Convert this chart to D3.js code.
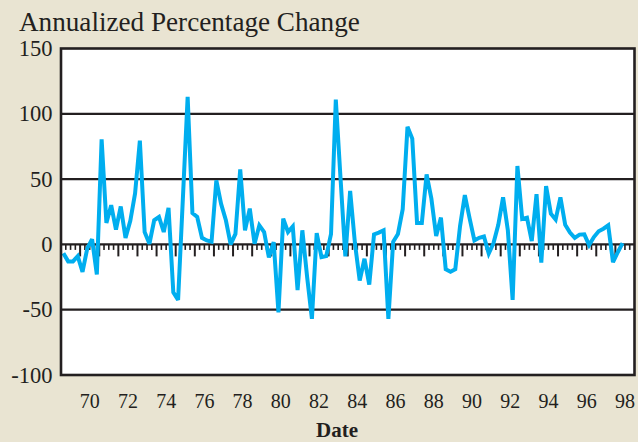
<!DOCTYPE html>
<html>
<head>
<meta charset="utf-8">
<script src="https://cdn.jsdelivr.net/npm/d3@7/dist/d3.min.js"></script>
<style>
  html, body { margin: 0; padding: 0; background: #E9E4D2; }
  svg { display: block; }
  text { font-family: "Liberation Serif", "Times New Roman", serif; fill: #231F20; }
</style>
</head>
<body>
<svg id="chart" width="638" height="442"></svg>
<script>
// ---- Data (quarterly, annualized % change), first quarter = 1969 Q1 ----
const startYear = 1969;
const values = [
  -6.7, -13, -13, -9, -21, -3, 4, -23, 80.5, 16.4,
  30, 11.3, 29, 5, 18, 39, 79.5, 9.5, 0.5, 18.5,
  21, 9.5, 28, -36.7, -42.5, 35, 113, 24, 21, 5,
  3, 2, 49, 31, 18.5, 0, 8, 57.5, 10.8, 27.4,
  0.5, 14.6, 9.5, -10, 1.8, -52, 19.7, 9.5, 13.8, -35,
  10.8, -25, -57, 8.7, -9.7, -9, 8, 110.8, 50, -9.2,
  41, 1, -27.7, -11, -30.8, 7.7, 9, 10.8, -57, 2,
  8, 27, 90, 81, 16.4, 16.4, 53.6, 35, 6.5, 20.5,
  -19, -21, -19, 14, 37.7, 20, 3, 5, 6, -7,
  1, 15, 36, 10.8, -42.5, 60, 19.5, 20.5, 2.5, 38.5,
  -14, 44.6, 23.5, 19, 36, 15, 9, 5, 7.5, 7.7,
  -0.5, 5.6, 10, 12, 14.6, -13.6, -6, 1
];
const yTicks = [150, 100, 50, 0, -50, -100];
const xLabelYears = [1970, 1972, 1974, 1976, 1978, 1980, 1982, 1984, 1986, 1988, 1990, 1992, 1994, 1996, 1998];
const titleText = "Annualized Percentage Change";
const xTitle = "Date";

// ---- Layout ----
const svg = d3.select("#chart");
const L = 61, R = 634.5, T = 48.5, B = 375;
const x = d3.scaleLinear().domain([1969, 1999]).range([L, R]);
const y = d3.scaleLinear().domain([-100, 150]).range([B, T]);

const data = values.map((v, i) => ({ t: startYear + 0.125 + i * 0.25, v }));

// plot background
svg.append("rect").attr("x", L).attr("y", T).attr("width", R - L).attr("height", B - T).attr("fill", "#fff");

// grid lines
svg.append("g").selectAll("line").data(yTicks.filter(d => d !== 0 && d !== 150 && d !== -100)).join("line")
  .attr("x1", L).attr("x2", R).attr("y1", d => y(d)).attr("y2", d => y(d))
  .attr("stroke", "#231F20").attr("stroke-width", 2.2);

// zero axis with ticks
const quarters = d3.range(1969, 1999, 0.25).filter(q => q > 1969);
const years = d3.range(1970, 1999, 1);
const zeroG = svg.append("g").attr("transform", `translate(0,${y(0)})`);
zeroG.append("line").attr("x1", L).attr("x2", R).attr("stroke", "#231F20").attr("stroke-width", 2.2);
zeroG.selectAll("line.minor").data(quarters.filter(q => q % 1 !== 0)).join("line").attr("class", "minor")
  .attr("x1", d => x(d)).attr("x2", d => x(d)).attr("y1", 0).attr("y2", 5.5)
  .attr("stroke", "#231F20").attr("stroke-width", 1.6);
zeroG.selectAll("line.major").data(years).join("line").attr("class", "major")
  .attr("x1", d => x(d)).attr("x2", d => x(d)).attr("y1", 0).attr("y2", 12)
  .attr("stroke", "#231F20").attr("stroke-width", 2);

// data line
const line = d3.line().x(d => x(d.t)).y(d => y(d.v));
svg.append("path").datum(data).attr("d", line)
  .attr("fill", "none").attr("stroke", "#00AEEF").attr("stroke-width", 4)
  .attr("stroke-linejoin", "miter").attr("stroke-miterlimit", 3);

// plot border
svg.append("rect").attr("x", L).attr("y", T).attr("width", R - L).attr("height", B - T)
  .attr("fill", "none").attr("stroke", "#231F20").attr("stroke-width", 2.6);

// y labels
svg.append("g").selectAll("text").data(yTicks).join("text")
  .attr("x", 52.5).attr("y", d => y(d) + 7.5).attr("text-anchor", "end")
  .attr("font-size", 22.5).text(d => d);

// x labels
svg.append("g").selectAll("text").data(xLabelYears).join("text")
  .attr("x", d => x(d + 0.5)).attr("y", 408).attr("text-anchor", "middle")
  .attr("font-size", 20).text(d => String(d % 100).padStart(2, "0"));

// title
const title = svg.append("text").attr("x", 19).attr("y", 31).attr("font-size", 24).text(titleText);
const tw = title.node().getComputedTextLength();
title.attr("font-size", 24 * 341 / tw);

// x axis title
svg.append("text").attr("x", 337).attr("y", 437).attr("text-anchor", "middle")
  .attr("font-size", 21).attr("font-weight", "bold").text(xTitle);
</script>
</body>
</html>
